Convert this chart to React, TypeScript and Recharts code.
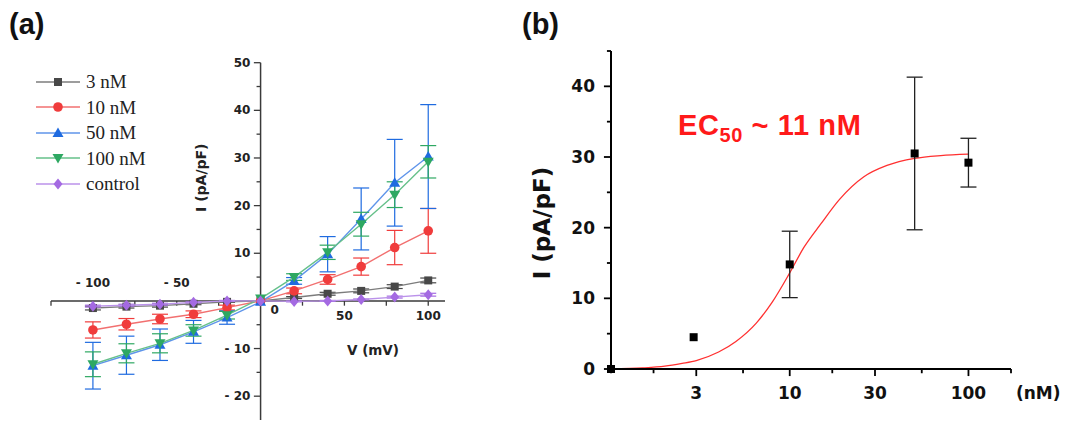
import React from 'react';
import {
  ComposedChart,
  LineChart,
  Line,
  Scatter,
  XAxis,
  YAxis,
  ErrorBar,
  ReferenceLine,
  Legend,
} from 'recharts';

// ---- (a) I-V curves ----
const voltages = [-100, -80, -60, -40, -20, 0, 20, 40, 60, 80, 100];
const current3nM = [-1.5, -1.2, -1.0, -0.6, -0.2, 0, 0.7, 1.5, 2.1, 3.0, 4.3];
const err3nM = [0.4, 0.3, 0.3, 0.2, 0.1, 0, 0.2, 0.3, 0.4, 0.4, 0.5];
const current10nM = [-6.1, -4.9, -3.8, -2.8, -1.4, 0, 2.1, 4.5, 7.2, 11.2, 14.7];
const err10nM = [1.7, 1.2, 1.0, 0.7, 0.5, 0, 0.6, 1.0, 1.8, 3.6, 4.7];
const current50nM = [-13.6, -11.4, -9.2, -6.5, -3.5, -0.2, 4.2, 9.8, 17.2, 24.8, 30.3];
const err50nM = [4.9, 4.0, 3.3, 2.4, 1.4, 0, 0.7, 3.7, 6.5, 9.1, 10.9];
const current100nM = [-13.3, -11.0, -8.9, -6.2, -3.0, 0.5, 5.0, 10.2, 16.1, 22.3, 29.2];
const err100nM = [2.6, 2.0, 2.0, 1.2, 0.8, 0, 0.7, 1.5, 2.5, 2.7, 3.4];
const currentControl = [-1.1, -0.9, -0.7, -0.3, 0.0, 0, -0.1, 0.0, 0.3, 0.8, 1.3];
const errControl = [0.2, 0.2, 0.2, 0.1, 0.1, 0, 0.1, 0.1, 0.1, 0.2, 0.3];

const seriesNames = ['3 nM', '10 nM', '50 nM', '100 nM', 'control'];
const seriesKeys = ['c3', 'c10', 'c50', 'c100', 'ctrl'];

const ivXTicks = [-125, -100, -75, -50, -25, 25, 50, 75, 100];
const ivXLabels = [-100, -50, 0, 50, 100];
const ivYMajor = [-20, -10, 10, 20, 30, 40, 50];
const ivYMinor = [-15, -5, 5, 15, 25, 35, 45];

const ivData = voltages.map((v, i) => ({
  v,
  c3: current3nM[i],
  c3e: err3nM[i],
  c10: current10nM[i],
  c10e: err10nM[i],
  c50: current50nM[i],
  c50e: err50nM[i],
  c100: current100nM[i],
  c100e: err100nM[i],
  ctrl: currentControl[i],
  ctrle: errControl[i],
}));

// ---- (b) dose response ----
// control (0 nM) sits at the origin of the log axis
const doseConc = [1, 2.9, 10, 50, 100];
const doseCurrent = [0, 4.5, 14.8, 30.5, 29.2];
const doseErr = [0, 0, 4.7, 10.8, 3.45];
const fitConc = [1, 1.5, 2, 2.5, 3, 4, 5, 6.5, 8, 10, 12, 15, 19, 26, 35, 50, 70, 100];
const fitCurrent = [0, 0.15, 0.4, 0.8, 1.2, 2.4, 3.9, 6.5, 9.5, 13.6, 17.2, 20.6, 24.0, 27.2, 28.8, 29.8, 30.2, 30.4];

const doseXMajor = [3, 10, 30, 100];
const doseXMinor = [1, 1.73, 5.48, 17.3, 54.8, 173];
const doseYMajor = [0, 10, 20, 30, 40];
const doseYMinor = [5, 15, 25, 35, 45];

const doseData = doseConc.map((x, i) => ({ x, y: doseCurrent[i], err: doseErr[i] }));
const fitData = fitConc.map((x, i) => ({ x, y: fitCurrent[i] }));

const DEJAVU = '"DejaVu Sans", Verdana, sans-serif';
const ARIAL = '"Liberation Sans", Arial, sans-serif';
const SERIF = '"Liberation Serif", "Times New Roman", serif';

const styles = [
  { marker: '#484848', line: '#7c7c7c', shape: 'square' },
  { marker: '#f03c3c', line: '#f27070', shape: 'circle' },
  { marker: '#1f6be0', line: '#5f95ea', shape: 'up' },
  { marker: '#2ea862', line: '#66c08a', shape: 'down' },
  { marker: '#a46ae2', line: '#bb92ea', shape: 'diamond' },
];

const Marker = ({ shape, color, cx, cy }: any) => {
  if (cx == null || cy == null) return null;
  switch (shape) {
    case 'square':
      return <rect x={cx - 4} y={cy - 4} width={8} height={8} fill={color} />;
    case 'circle':
      return <circle cx={cx} cy={cy} r={4.8} fill={color} />;
    case 'up':
      return <path d={`M${cx},${cy - 5.5}L${cx + 5.5},${cy + 4}L${cx - 5.5},${cy + 4}Z`} fill={color} />;
    case 'down':
      return <path d={`M${cx},${cy + 5.5}L${cx + 5.5},${cy - 4}L${cx - 5.5},${cy - 4}Z`} fill={color} />;
    default:
      return <path d={`M${cx},${cy - 5.5}L${cx + 4.5},${cy}L${cx},${cy + 5.5}L${cx - 4.5},${cy}Z`} fill={color} />;
  }
};

const IvLegend = () => (
  <div style={{ fontFamily: SERIF, fontSize: 19, color: '#222' }}>
    {seriesNames.map((name, i) => (
      <div key={name} style={{ display: 'flex', alignItems: 'center', height: 25.5 }}>
        <svg width={50} height={14}>
          <line x1={2} y1={7} x2={46} y2={7} stroke={styles[i].line} strokeWidth={1.4} />
          <Marker shape={styles[i].shape} color={styles[i].marker} cx={24} cy={7} />
        </svg>
        <span style={{ marginLeft: 2, lineHeight: '19px' }}>{name}</span>
      </div>
    ))}
  </div>
);

const axisText = (text: string, dx: number, dy: number, anchor: string, size = 12, angle = 0) =>
  (p: any) => {
    const vb = p.viewBox || {};
    const x = (vb.x ?? 0) + dx;
    const y = (vb.y ?? 0) + dy;
    return (
      <text
        x={x}
        y={y}
        textAnchor={anchor}
        dominantBaseline="central"
        transform={angle ? `rotate(${angle}, ${x}, ${y})` : undefined}
        fontFamily={DEJAVU}
        fontWeight="bold"
        fontSize={size}
        fill="#222"
      >
        {text}
      </text>
    );
  };

const fmt = (t: number) => (t < 0 ? `- ${-t}` : `${t}`);

const DoseXTick = ({ x, y, payload }: any) => (
  <text x={x} y={y + 24} textAnchor="middle" dominantBaseline="central" fontFamily={DEJAVU} fontWeight="bold" fontSize={17} fill="#111">
    {payload.value}
  </text>
);

const DoseYTick = ({ x, y, payload }: any) => (
  <text x={x - 16} y={y} textAnchor="end" dominantBaseline="central" fontFamily={DEJAVU} fontWeight="bold" fontSize={17} fill="#111">
    {payload.value}
  </text>
);

const SquareDot = ({ cx, cy }: any) =>
  cx == null ? null : <rect x={cx - 4} y={cy - 4} width={8} height={8} fill="#000" />;

export default function App() {
  const axisColor = '#3a3a3a';
  return (
    <div style={{ position: 'absolute', left: 0, top: 0, width: 1070, height: 421, background: '#fff' }}>
      <LineChart
        width={470}
        height={421}
        data={ivData}
        margin={{ top: 62.7, right: 25, bottom: 1, left: 51 }}
        style={{ position: 'absolute', left: 0, top: 0 }}
      >
        <XAxis type="number" dataKey="v" domain={[-125, 110]} hide />
        <YAxis type="number" domain={[-25, 50]} hide />
        <ReferenceLine
          y={0}
          stroke={axisColor}
          strokeWidth={1.5}
          label={axisText('V (mV)', 322, 49, 'middle', 13.5)}
        />
        <ReferenceLine
          x={0}
          stroke={axisColor}
          strokeWidth={1.5}
          label={axisText('I (pA/pF)', -60, 115, 'middle', 14, -90)}
        />
        {ivXTicks.map((t) => (
          <ReferenceLine key={`xt${t}`} segment={[{ x: t, y: 0 }, { x: t, y: -1 }]} stroke={axisColor} strokeWidth={1.3} />
        ))}
        {ivXLabels.map((t) => (
          <ReferenceLine
            key={`xl${t}`}
            segment={[{ x: t, y: 0 }, { x: t, y: 0 }]}
            stroke="none"
            label={axisText(fmt(t), t === 0 ? 14 : 0, t < 0 ? -18 : t === 0 ? 9 : 15, 'middle')}
          />
        ))}
        {ivYMajor.map((t) => (
          <ReferenceLine
            key={`ym${t}`}
            segment={[{ x: -4, y: t }, { x: 0, y: t }]}
            stroke={axisColor}
            strokeWidth={1.3}
            label={axisText(fmt(t), -3.5, 0, 'end')}
          />
        ))}
        {ivYMinor.map((t) => (
          <ReferenceLine key={`yn${t}`} segment={[{ x: -2.4, y: t }, { x: 0, y: t }]} stroke={axisColor} strokeWidth={1.3} />
        ))}
        {seriesKeys.map((k, i) => (
          <Line
            key={k}
            dataKey={k}
            name={seriesNames[i]}
            stroke={styles[i].line}
            strokeWidth={1.4}
            isAnimationActive={false}
            dot={(p: any) => <Marker key={`${k}-${p.index}`} shape={styles[i].shape} color={styles[i].marker} cx={p.cx} cy={p.cy} />}
            activeDot={false}
          >
            <ErrorBar dataKey={`${k}e`} direction="y" width={8} stroke={styles[i].marker} strokeWidth={1.2} />
          </Line>
        ))}
        <Legend
          layout="horizontal"
          verticalAlign="middle"
          align="center"
          wrapperStyle={{ left: 34, top: 69, width: 170, height: 130 }}
          content={() => <IvLegend />}
        />
      </LineChart>

      <ComposedChart
        width={550}
        height={421}
        margin={{ top: 51, right: 59, bottom: 22, left: 0 }}
        style={{ position: 'absolute', left: 520, top: 0 }}
      >
        <XAxis
          type="number"
          dataKey="x"
          scale="log"
          domain={[1, 173]}
          ticks={doseXMajor}
          interval={0}
          tick={<DoseXTick />}
          tickLine={false}
          tickSize={0}
          tickMargin={0}
          axisLine={{ stroke: '#000', strokeWidth: 2 }}
          height={30}
          label={{ value: '(nM)', position: 'right', offset: 5, dy: 9, fontFamily: DEJAVU, fontWeight: 'bold', fontSize: 17, fill: '#111' }}
        />
        <YAxis
          type="number"
          dataKey="y"
          domain={[0, 45]}
          ticks={doseYMajor}
          interval={0}
          tick={<DoseYTick />}
          tickLine={false}
          tickSize={0}
          tickMargin={0}
          width={91}
          axisLine={{ stroke: '#000', strokeWidth: 2 }}
          label={{ value: 'I (pA/pF)', angle: -90, position: 'center', dx: -24, dy: 13, fontFamily: DEJAVU, fontWeight: 'bold', fontSize: 23, fill: '#111' }}
        />
        {doseXMajor.map((t) => (
          <ReferenceLine key={`dxm${t}`} segment={[{ x: t, y: 0 }, { x: t, y: -1 }]} ifOverflow="visible" stroke="#000" strokeWidth={1.8} />
        ))}
        {doseXMinor.map((t) => (
          <ReferenceLine key={`dxn${t}`} segment={[{ x: t, y: 0 }, { x: t, y: -0.6 }]} ifOverflow="visible" stroke="#000" strokeWidth={1.8} />
        ))}
        {doseYMajor.map((t) => (
          <ReferenceLine key={`dym${t}`} segment={[{ x: 0.913, y: t }, { x: 1, y: t }]} ifOverflow="visible" stroke="#000" strokeWidth={1.8} />
        ))}
        {doseYMinor.map((t) => (
          <ReferenceLine key={`dyn${t}`} segment={[{ x: 0.949, y: t }, { x: 1, y: t }]} ifOverflow="visible" stroke="#000" strokeWidth={1.8} />
        ))}
        <Line
          data={fitData}
          dataKey="y"
          type="monotone"
          stroke="#ff3030"
          strokeWidth={1.3}
          dot={false}
          activeDot={false}
          isAnimationActive={false}
        />
        <Scatter data={doseData} dataKey="y" shape={<SquareDot />} isAnimationActive={false}>
          <ErrorBar dataKey="err" direction="y" width={8} stroke="#222" strokeWidth={1.3} />
        </Scatter>
      </ComposedChart>

      <svg width={1070} height={421} style={{ position: 'absolute', left: 0, top: 0, pointerEvents: 'none' }}>
        <text x={9} y={34} fontFamily={ARIAL} fontWeight="bold" fontSize={29} fill="#111">(a)</text>
        <text x={522} y={34} fontFamily={ARIAL} fontWeight="bold" fontSize={29} fill="#111">(b)</text>
        <text x={678} y={135} fontFamily={ARIAL} fontWeight="bold" fontSize={29} fill="#ff1a1a" letterSpacing={0.6}>
          EC
          <tspan fontSize={20} dy={7}>50</tspan>
          <tspan dy={-7}> ~ 11 nM</tspan>
        </text>
      </svg>
    </div>
  );
}
